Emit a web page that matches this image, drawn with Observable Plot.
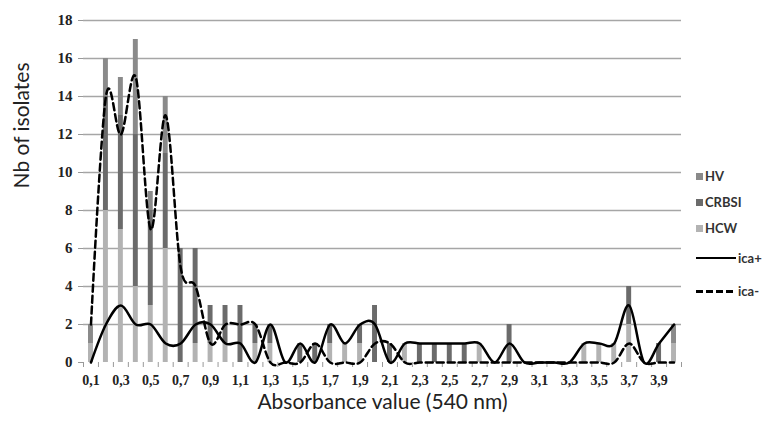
<!DOCTYPE html>
<html><head><meta charset="utf-8">
<script src="https://cdn.jsdelivr.net/npm/d3@7"></script>
<script src="https://cdn.jsdelivr.net/npm/@observablehq/plot@0.6"></script>
<style>
body{margin:0;background:#fff;}
#wrap{position:relative;width:766px;height:422px;overflow:hidden;}
#wrap g[aria-label="y-axis tick label"] text{font-size:15px !important;font-weight:bold;font-family:'Liberation Serif',serif;}
#wrap g[aria-label="x-axis tick label"] text{font-size:14px !important;font-weight:bold;font-family:'Liberation Serif',serif;}
#legend{position:absolute;left:696px;top:168px;font-family:Lato,"Open Sans",sans-serif;font-size:13px;font-weight:bold;color:#333;}
#legend .it{position:absolute;left:0;white-space:nowrap;display:flex;align-items:center;height:16px;}
#legend .sw{width:7px;height:7px;margin-right:2px;}
#legend .ln{width:40px;height:0;border-top:2.5px solid #000;margin-right:2px;}
#legend .dash{width:40px;height:3px;margin-right:2px;background:repeating-linear-gradient(90deg,#000 0 7px,transparent 7px 10px);}
</style></head><body>
<div id="wrap"><div id="legend"></div></div>
<script>
const absorbance = [0.1,0.2,0.3,0.4,0.5,0.6,0.7,0.8,0.9,1.0,1.1,1.2,1.3,1.4,1.5,1.6,1.7,1.8,1.9,2.0,2.1,2.2,2.3,2.4,2.5,2.6,2.7,2.8,2.9,3.0,3.1,3.2,3.3,3.4,3.5,3.6,3.7,3.8,3.9,4.0];
const hcw   = [1,8,7,4,3,6,0,1,1,1, 0,1,1,0,0,0,1,1,1,0, 0,1,0,0,0,0,1,0,0,0, 0,0,0,1,1,1,2,0,0,1];
const crbsi = [0,6,6,8,5,5,6,5,2,2, 3,1,1,0,1,1,1,0,1,3, 1,0,1,1,1,1,0,0,2,0, 0,0,0,0,0,0,2,0,1,0];
const hv    = [1,2,2,5,1,3,0,0,0,0, 0,0,0,0,0,0,0,0,0,0, 0,0,0,0,0,0,0,0,0,0, 0,0,0,0,0,0,0,0,0,1];
const icaPlus  = [0,2,3,2,2,1,1,2,2,1, 1,0,2,0,1,0,2,1,2,2, 0,1,1,1,1,1,1,0,1,0, 0,0,0,1,1,1,3,0,1,2];
const icaMinus = [2,14,12,15,7,13,5,4,1,2, 2,2,0,0,0,1,0,0,0,1, 1,0,0,0,0,0,0,0,0,0, 0,0,0,0,0,0,1,0,0,0];
const xTickLabels = ["0,1","0,3","0,5","0,7","0,9","1,1","1,3","1,5","1,7","1,9","2,1","2,3","2,5","2,7","2,9","3,1","3,3","3,5","3,7","3,9"];
const yTicks = [0,2,4,6,8,10,12,14,16,18];
const groups = ["HV","CRBSI","HCW"];
const groupColors = ["#8a8a8a","#6b6b6b","#b3b3b3"];

const half = 0.05;
const rows = [];
absorbance.forEach((x,i)=>{
  rows.push({x, group:"HCW", n:hcw[i]});
  rows.push({x, group:"CRBSI", n:crbsi[i]});
  rows.push({x, group:"HV", n:hv[i]});
});
const lineRows = absorbance.map((x,i)=>({x, plus:icaPlus[i], minus:icaMinus[i]}));
const boundaries = absorbance.map(x=>x-half).concat([absorbance[absorbance.length-1]+half]);
const labelTicks = xTickLabels.map(s=>+s.replace(",", "."));
const fmt = v => xTickLabels[labelTicks.findIndex(t=>Math.abs(t-v)<1e-9)];

const chart = Plot.plot({
  width:766, height:422,
  marginLeft:83, marginRight:85, marginTop:20, marginBottom:60,
  x:{type:"linear", domain:[boundaries[0], boundaries[boundaries.length-1]]},
  y:{domain:[0,18]},
  color:{domain:groups, range:groupColors},
  style:{fontFamily:"'Liberation Serif', serif", background:"#fff", overflow:"visible"},
  marks:[
    Plot.gridY(yTicks.filter(d=>d>0), {stroke:"#a6a6a6", strokeOpacity:1, strokeWidth:1.5}),
    Plot.rectY(rows, {x1:d=>d.x-half, x2:d=>d.x+half, y:"n", fill:"group", insetLeft:5, insetRight:5}),
    Plot.axisY(yTicks, {tickSize:5, tickPadding:6, stroke:"#999", color:"#222", label:null, line:true}),
    Plot.axisX(boundaries, {tickSize:5, tickFormat:()=>"", stroke:"#999", label:null, line:true}),
    Plot.axisX(labelTicks, {tickSize:0, tickPadding:13, tickFormat:fmt, color:"#222", label:null}),
    Plot.line(lineRows, {x:"x", y:"plus", curve:"cardinal", stroke:"#000", strokeWidth:2.5}),
    Plot.line(lineRows, {x:"x", y:"minus", curve:"cardinal", stroke:"#000", strokeWidth:2.5, strokeDasharray:"7,4"}),
    Plot.text(["Absorbance value (540 nm)"], {frameAnchor:"bottom", dy:46, fontSize:21, fontFamily:"Lato, sans-serif", fill:"#222"}),
    Plot.text(["Nb of isolates"], {frameAnchor:"left", dx:-61, dy:-3, rotate:-90, fontSize:21, fontFamily:"Lato, sans-serif", fill:"#222"})
  ]
});
document.getElementById("wrap").prepend(chart);

const legend = document.getElementById("legend");
const items = [
  {type:"sw", label:"HV", color:groupColors[0], top:0},
  {type:"sw", label:"CRBSI", color:groupColors[1], top:26},
  {type:"sw", label:"HCW", color:groupColors[2], top:52},
  {type:"ln", label:"ica+", top:82},
  {type:"dash", label:"ica-", top:115}
];
items.forEach(it=>{
  const d = document.createElement("div");
  d.className = "it"; d.style.top = it.top + "px";
  const s = document.createElement("span");
  s.className = it.type;
  if (it.type === "sw") s.style.background = it.color;
  d.appendChild(s);
  const t = document.createElement("span"); t.textContent = it.label; d.appendChild(t);
  legend.appendChild(d);
});
</script>
</body></html>
